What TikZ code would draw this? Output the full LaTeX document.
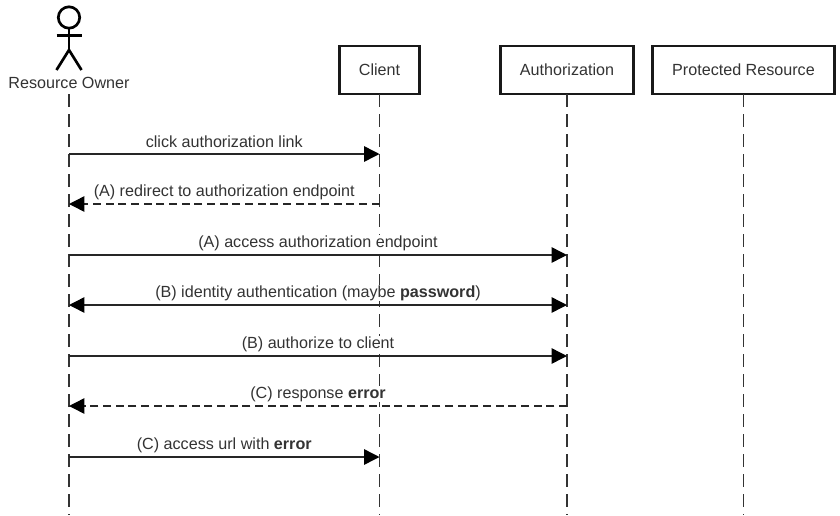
\documentclass[tikz,border=0pt]{standalone}
\usepackage{fontspec}
\setmainfont{Liberation Sans}
\usetikzlibrary{arrows.meta}
\tikzset{
	party/.style={draw=black!90, line width=1.9pt, minimum height=36pt, inner sep=0pt, text=black!80},
	lifeline/.style={black!80, line width=1.1pt, dash pattern=on 10pt off 5pt},
	msg/.style={line width=1.1pt, black!85, -{Triangle[length=11.5pt, width=11.5pt, black]}},
	reply/.style={msg, dash pattern=on 6pt off 3.5pt},
	both/.style={msg, {Triangle[length=11.5pt, width=11.5pt, black]}-{Triangle[length=11.5pt, width=11.5pt, black]}},
	stick/.style={black, line width=2pt},
	msglabel/.style={text=black!80, fill=white, inner sep=0.5pt, anchor=center}
}
\begin{document}
\begin{tikzpicture}[x=0.75pt, y=-0.75pt, font=\fontsize{12.1pt}{14pt}\selectfont]
	\useasboundingbox[fill=white] (0,0) rectangle (840,515);
	% stick figure
	\draw[stick] (69,17.5) circle (10.7);
	\draw[stick] (69,28) -- (69,50) (56.5,35.7) -- (81.5,35.7);
	\draw[stick] (56.5,70) -- (69,50) -- (81.5,70);
	% heads of the lifelines
	\node[msglabel] (owner) at (69,83) {Resource Owner};
	\node[party, minimum width=60pt] (client) at (379.5,70) {Client};
	\node[party, minimum width=99.75pt] (auth) at (567,70) {Authorization};
	\node[party, minimum width=136.5pt] (resource) at (743.5,70) {Protected Resource};
	\foreach \p in {owner,client,auth,resource} {
		\coordinate (\p top) at (\p |- 0,94);
		\coordinate (\p end) at (\p |- 0,515);
		\draw[lifeline] (\p top) -- (\p end);
	}
	% messages, top to bottom
	\foreach \n/\y/\a/\b/\s/\l in {%
		1/154/owner/client/msg/{click authorization link},
		2/204/client/owner/reply/{(A) redirect to authorization endpoint},
		3/255/owner/auth/msg/{(A) access authorization endpoint},
		4/305/owner/auth/both/{(B) identity authentication (maybe \textbf{password})},
		5/356/owner/auth/msg/{(B) authorize to client},
		6/406/auth/owner/reply/{(C) response \textbf{error}},
		7/457/owner/client/msg/{(C) access url with \textbf{error}}} {
		\coordinate (from\n) at (\a |- 0,\y);
		\coordinate (to\n) at (\b |- 0,\y);
		\draw[\s] (from\n) -- (to\n);
		\path (from\n) -- (to\n) node[midway, yshift=8.9pt, msglabel] (label\n) {\l};
	}
\end{tikzpicture}
\end{document}
